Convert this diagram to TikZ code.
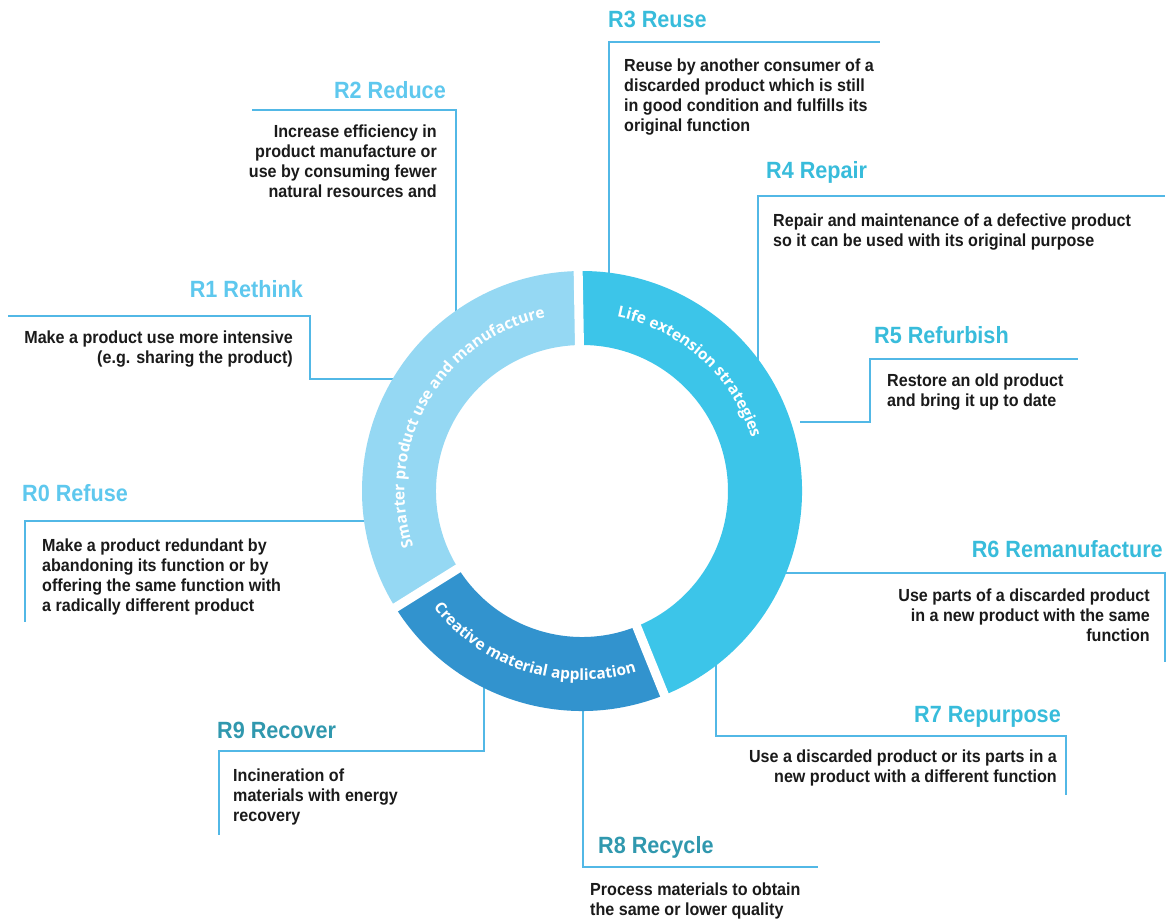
\documentclass[tikz,border=0pt]{standalone}
\usepackage{fontspec}
\setmainfont{Liberation Sans}[FakeStretch=0.92]
\newfontfamily\ringfont{Open Sans}
\usetikzlibrary{decorations.text}
\definecolor{ringA}{HTML}{95D8F3}
\definecolor{ringB}{HTML}{3CC5E9}
\definecolor{ringC}{HTML}{3293CE}
\definecolor{lineC}{HTML}{52B8E6}
\definecolor{ttlA}{HTML}{5EC8EE}
\definecolor{ttlB}{HTML}{38BCDB}
\definecolor{ttlC}{HTML}{3098AE}
\definecolor{bodyC}{HTML}{1A1A1A}
\begin{document}
\begin{tikzpicture}[x=1pt,y=1pt,
  conn/.style={draw=lineC, line width=1.8pt},
  ttl/.style={font=\fontsize{23.5}{26}\selectfont\bfseries, inner sep=0pt},
  body/.style={font=\fontsize{17.5}{20}\selectfont\bfseries, text=bodyC, inner sep=0pt},
  gap/.style={draw=white, line width=9pt},
  ringlbl/.style={decorate, decoration={text along path, text align=center, text color=white}}
]
\useasboundingbox (0,0) rectangle (1171,-922);
\fill[white] (0,0) rectangle (1171,-922);
\coordinate (c) at (582,-491);

% ring attachment points and connector corners
\coordinate (r0) at (380,-521);  \coordinate (e0) at (25,-622);
\coordinate (r1) at (410,-379);  \coordinate (k1) at (310,-316); \coordinate (e1) at (8,-316);
\coordinate (r2) at (456,-330);  \coordinate (e2) at (252,-110);
\coordinate (r3) at (609,-300);  \coordinate (e3) at (880,-42);
\coordinate (r4) at (758,-380);  \coordinate (e4) at (1165,-196);
\coordinate (r5) at (800,-422);  \coordinate (k5) at (870,-359); \coordinate (e5) at (1078,-359);
\coordinate (r6) at (770,-573);  \coordinate (e6) at (1165,-662);
\coordinate (r7) at (716,-650);  \coordinate (k7) at (1066,-736); \coordinate (e7) at (1066,-795);
\coordinate (r8) at (583,-690);  \coordinate (e8) at (818,-867);
\coordinate (r9) at (484,-670);  \coordinate (k9) at (219,-751); \coordinate (e9) at (219,-835);

% connectors
\draw[conn] (r0) -| (e0);
\draw[conn] (r1) -| (k1) -- (e1);
\draw[conn] (r2) |- (e2);
\draw[conn] (r3) |- (e3);
\draw[conn] (r4) |- (e4);
\draw[conn] (r5) -| (k5) -- (e5);
\draw[conn] (r6) -| (e6);
\draw[conn] (r7) |- (k7) -- (e7);
\draw[conn] (r8) |- (e8);
\draw[conn] (r9) |- (k9) -- (e9);

% ring segments
\fill[ringA] ([shift={(91:220)}]c) arc[start angle=91,end angle=212,radius=220]
  -- ([shift={(212:146)}]c) arc[start angle=212,end angle=91,radius=146] -- cycle;
\fill[ringC] ([shift={(212:220)}]c) arc[start angle=212,end angle=292,radius=220]
  -- ([shift={(292:146)}]c) arc[start angle=292,end angle=212,radius=146] -- cycle;
\fill[ringB] ([shift={(292:220)}]c) arc[start angle=292,end angle=451,radius=220]
  -- ([shift={(451:146)}]c) arc[start angle=451,end angle=292,radius=146] -- cycle;
\draw[gap] ([shift={(91:140)}]c) -- ([shift={(91:226)}]c);
\draw[gap] ([shift={(212:140)}]c) -- ([shift={(212:226)}]c);
\draw[gap] ([shift={(292:140)}]c) -- ([shift={(292:226)}]c);

% ring labels
\path[ringlbl, decoration={text={|\ringfont\bfseries\fontsize{15.5}{15.5}\selectfont|Smarter product use and manufacture}}]
  ([shift={(200:177.5)}]c) arc[start angle=200,end angle=100,radius=177.5];
\path[ringlbl, decoration={text={|\ringfont\bfseries\fontsize{15.5}{15.5}\selectfont|Life extension strategies}}]
  ([shift={(80:177.5)}]c) arc[start angle=80,end angle=16,radius=177.5];
\path[ringlbl, decoration={text={|\ringfont\bfseries\fontsize{15.5}{15.5}\selectfont|Creative material application}}]
  ([shift={(218:189)}]c) arc[start angle=218,end angle=287,radius=189];

% titles
\node[ttl, text=ttlA, anchor=base west] (t0) at (22,-501) {R0 Refuse};
\node[ttl, text=ttlA, anchor=base east] (t1) at (303,-297.5) {R1 Rethink};
\node[ttl, text=ttlA, anchor=base east] (t2) at (446,-98.5) {R2 Reduce};
\node[ttl, text=ttlB, anchor=base west] (t3) at (608,-27.5) {R3 Reuse};
\node[ttl, text=ttlB, anchor=base west] (t4) at (766,-178.5) {R4 Repair};
\node[ttl, text=ttlB, anchor=base west] (t5) at (874,-343.5) {R5 Refurbish};
\node[ttl, text=ttlB, anchor=base east] (t6) at (1163,-557.5) {R6 Remanufacture};
\node[ttl, text=ttlB, anchor=base east] (t7) at (1061,-722.5) {R7 Repurpose};
\node[ttl, text=ttlC, anchor=base west] (t8) at (598,-853.5) {R8 Recycle};
\node[ttl, text=ttlC, anchor=base west] (t9) at (217,-738.5) {R9 Recover};

% descriptions (anchored at the baseline of the last line)
\node[body, anchor=base west, align=left] (d0) at (42,-611)
  {Make a product redundant by\\abandoning its function or by\\offering the same function with\\a radically different product};
\node[body, anchor=base east, align=right] (d1) at (293,-363)
  {Make a product use more intensive\\(e.g. sharing the product)};
\node[body, anchor=base east, align=right] (d2) at (437,-197)
  {Increase efficiency in\\product manufacture or\\use by consuming fewer\\natural resources and};
\node[body, anchor=base west, align=left] (d3) at (624,-131)
  {Reuse by another consumer of a\\discarded product which is still\\in good condition and fulfills its\\original function};
\node[body, anchor=base west, align=left] (d4) at (773,-246)
  {Repair and maintenance of a defective product\\so it can be used with its original purpose};
\node[body, anchor=base west, align=left] (d5) at (887,-406)
  {Restore an old product\\and bring it up to date};
\node[body, anchor=base east, align=right] (d6) at (1150,-641)
  {Use parts of a discarded product\\in a new product with the same\\function};
\node[body, anchor=base east, align=right] (d7) at (1057,-782)
  {Use a discarded product or its parts in a\\new product with a different function};
\node[body, anchor=base west, align=left] (d8) at (590,-915)
  {Process materials to obtain\\the same or lower quality};
\node[body, anchor=base west, align=left] (d9) at (233,-821)
  {Incineration of\\materials with energy\\recovery};
\end{tikzpicture}
\end{document}
